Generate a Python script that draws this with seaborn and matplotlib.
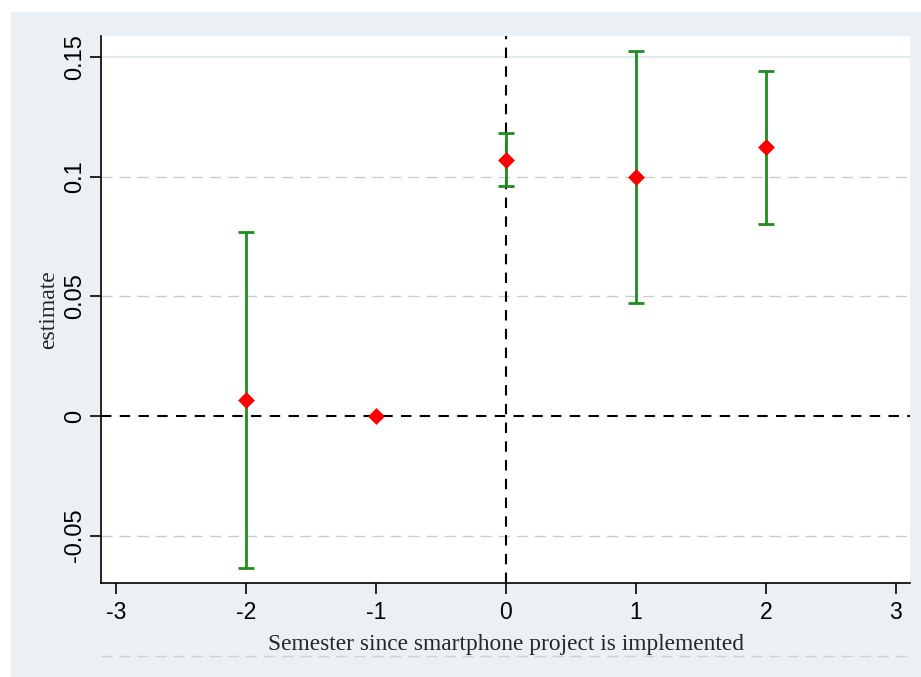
import numpy as np
import pandas as pd
import matplotlib
matplotlib.use("Agg")
import matplotlib.pyplot as plt
from matplotlib.lines import Line2D
from matplotlib.patches import Rectangle
import seaborn as sns


# DATA

periods = [-2, -1, 0, 1, 2]
estimates = [0.0067, 0.0, 0.107, 0.0999, 0.1124]
ci_low = [-0.0636, 0.0, 0.0961, 0.0472, 0.0803]
ci_high = [0.0769, 0.0, 0.1183, 0.1526, 0.1442]

x_ticks = [-3, -2, -1, 0, 1, 2, 3]
y_ticks = [-0.05, 0, 0.05, 0.1, 0.15]
y_tick_labels = ["-0.05", "0", "0.05", "0.1", "0.15"]

x_label = "Semester since smartphone project is implemented"
y_label = "estimate"


# STYLE

sns.set_theme(style="white")

PANEL = "#EAF0F3"
GREEN = "#1E8C1E"


def main():

    df = pd.DataFrame({
        "period": periods,
        "estimate": estimates,
        "low": ci_low,
        "high": ci_high
    })

    fig = plt.figure(figsize=(9.21, 6.77), dpi=100)
    fig.patch.set_facecolor("white")

    # outer stata-like panel
    fig.add_artist(
        Rectangle(
            (11 / 921, 0),
            1 - 11 / 921,
            1 - 12 / 677,
            transform=fig.transFigure,
            facecolor=PANEL,
            edgecolor="none",
            zorder=0
        )
    )

    ax = fig.add_axes([
        101 / 921,
        (677 - 583) / 677,
        (910 - 101) / 921,
        (583 - 36) / 677
    ])
    ax.set_facecolor("white")

    # grid lines
    ax.axhline(0.15, color="#DCE6EA", lw=1.2, zorder=1)
    for yv in [0.1, 0.05, -0.05]:
        ax.axhline(yv, color="#C9CDCD", lw=1.0, ls=(0, (8, 5)), zorder=1)

    # reference lines
    ax.axhline(0, color="black", lw=1.5, ls=(0, (5, 4)), zorder=2)
    ax.axvline(0, color="black", lw=1.5, ls=(0, (5, 4)), zorder=2)

    # confidence intervals (skip reference period)
    ci = df[df["high"] != df["low"]]
    ax.errorbar(
        ci["period"],
        ci["estimate"],
        yerr=[ci["estimate"] - ci["low"], ci["high"] - ci["estimate"]],
        fmt="none",
        ecolor=GREEN,
        elinewidth=2,
        capsize=6,
        capthick=2,
        zorder=3
    )

    sns.scatterplot(
        data=df,
        x="period",
        y="estimate",
        marker="D",
        color="red",
        edgecolor="red",
        linewidth=0.5,
        s=65,
        ax=ax,
        zorder=4
    )

    ax.set_xlim(-3.115, 3.108)
    ax.set_ylim(-0.0698, 0.1588)

    ax.set_xticks(x_ticks)
    ax.set_xticklabels([str(t) for t in x_ticks])
    ax.set_yticks(y_ticks)
    ax.set_yticklabels(
        y_tick_labels,
        rotation=90,
        va="center"
    )

    ax.tick_params(
        axis="both",
        direction="out",
        length=8,
        width=1.2,
        color="black",
        labelcolor="black",
        bottom=True,
        left=True
    )
    ax.tick_params(axis="x", pad=5, labelsize=16.5)
    ax.tick_params(axis="y", pad=3, labelsize=17)
    for lab in ax.get_xticklabels() + ax.get_yticklabels():
        lab.set_family(["Liberation Sans", "DejaVu Sans"])

    for side in ["top", "right"]:
        ax.spines[side].set_visible(False)
    for side in ["left", "bottom"]:
        ax.spines[side].set_color("black")
        ax.spines[side].set_linewidth(1.2)

    ax.set_xlabel(
        x_label,
        fontsize=16.8,
        family=["Liberation Serif", "DejaVu Serif"],
        labelpad=7
    )
    ax.set_ylabel(
        y_label,
        fontsize=17,
        family=["Liberation Serif", "DejaVu Serif"],
        labelpad=3
    )

    # faint dashed rule below the axis title
    fig.add_artist(
        Line2D(
            [101 / 921, 910 / 921],
            [(677 - 656) / 677, (677 - 656) / 677],
            transform=fig.transFigure,
            color="#C9D2D6",
            lw=1.0,
            ls=(0, (8, 5))
        )
    )

    fig.savefig("out.png", dpi=100)


if __name__ == "__main__":
    main()
